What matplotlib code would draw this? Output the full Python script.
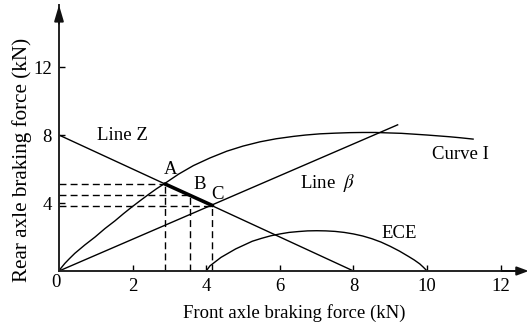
import matplotlib
matplotlib.use("Agg")
import matplotlib.pyplot as plt

plt.rcParams['font.family'] = ['Liberation Serif', 'DejaVu Serif']
plt.rcParams['mathtext.fontset'] = 'stix'

# Data
curve_i_x = [0, 0.05, 0.16, 0.28, 0.43, 0.7, 0.98, 1.25, 1.52, 1.75, 1.97, 2.2, 2.43, 2.65, 2.88,
             3.25, 3.65, 4.1, 4.56, 5.0, 5.46, 5.9, 6.37, 6.7, 7.09, 7.5, 7.9, 8.25, 8.6, 9.0,
             9.3, 9.65, 10.0, 10.3, 10.6, 10.9, 11.25]
curve_i_y = [0, 0.16, 0.45, 0.72, 1.04, 1.53, 2.0, 2.5, 2.95, 3.37, 3.75, 4.13, 4.5, 4.84, 5.16,
             5.7, 6.2, 6.65, 7.05, 7.35, 7.6, 7.78, 7.92, 8.0, 8.07, 8.11, 8.14, 8.15, 8.15, 8.12,
             8.1, 8.05, 8.0, 7.95, 7.9, 7.84, 7.76]
line_z_x = [0, 8]
line_z_y = [8, 0]
beta_x = [0, 9.2]
beta_y = [0, 8.6]
ece_x = [4.0, 4.05, 4.1, 4.25, 4.4, 4.6, 4.8, 5.0, 5.25, 5.5, 5.75, 6.0, 6.25, 6.5, 6.75, 7.0,
         7.25, 7.5, 7.75, 8.0, 8.25, 8.5, 8.75, 9.0, 9.25, 9.5, 9.65, 9.8, 9.9, 10.0]
ece_y = [0.0, 0.15, 0.3, 0.55, 0.8, 1.05, 1.3, 1.5, 1.75, 1.92, 2.07, 2.18, 2.27, 2.32, 2.36, 2.37,
         2.36, 2.33, 2.27, 2.18, 2.06, 1.9, 1.7, 1.45, 1.17, 0.85, 0.65, 0.42, 0.22, 0.0]
pts_label = ['A', 'B', 'C']
pts_x = [2.88, 3.56, 4.17]
pts_y = [5.12, 4.45, 3.85]
xticks = [2, 4, 6, 8, 10, 12]
yticks = [4, 8, 12]

W, H = 531, 329
fig = plt.figure(figsize=(W/100, H/100), dpi=100)
ax = fig.add_axes([59/W, 58/H, (525-59)/W, (271-5)/H])
ax.set_xlim(0, 12.66)
ax.set_ylim(0, 15.65)

lw = 1.0
ax.plot(curve_i_x, curve_i_y, color='black', lw=lw)
ax.plot(line_z_x, line_z_y, color='black', lw=lw)
ax.plot(beta_x, beta_y, color='black', lw=lw)
ax.plot(ece_x, ece_y, color='black', lw=lw)
# thick segment A-C
ax.plot([pts_x[0], pts_x[2]], [pts_y[0], pts_y[2]], color='black', lw=2.6, solid_capstyle='round')

for px, py in zip(pts_x, pts_y):
    ax.plot([0, px], [py, py], color='black', lw=1.0, dashes=(5, 3))
    ax.plot([px, px], [0, py], color='black', lw=1.0, dashes=(5, 3))

fs = 13.5
label_pos = [(3.02, 6.0), (3.82, 5.06), (4.31, 4.53)]
for lab, (lx, ly) in zip(pts_label, label_pos):
    ax.text(lx, ly, lab, fontsize=fs, ha='center', va='center')
ax.text(1.03, 7.97, 'Line Z', fontsize=fs, ha='left', va='center')
ax.text(10.14, 6.85, 'Curve I', fontsize=fs, ha='left', va='center')
ax.text(6.55, 5.15, r'Line  $\beta$', fontsize=fs, ha='left', va='center')
ax.text(8.77, 2.23, 'ECE', fontsize=fs, ha='left', va='center')

for s in ['top', 'right']:
    ax.spines[s].set_visible(False)
for s in ['left', 'bottom']:
    ax.spines[s].set_linewidth(1.4)
    ax.spines[s].set_color('#222222')

ax.annotate('', xy=(1.008, 0), xytext=(0.95, 0), xycoords='axes fraction',
            arrowprops=dict(arrowstyle='-|>,head_length=0.7,head_width=0.26',
                            color='#111111', lw=1.4, mutation_scale=10, shrinkA=0, shrinkB=0),
            annotation_clip=False)
ax.annotate('', xy=(0, 1.0), xytext=(0, 0.93), xycoords='axes fraction',
            arrowprops=dict(arrowstyle='-|>,head_length=0.95,head_width=0.28',
                            color='#111111', lw=1.4, mutation_scale=10, shrinkA=0, shrinkB=0),
            annotation_clip=False)

ax.set_xticks(xticks)
ax.set_yticks(yticks)
ax.set_xticklabels([str(t) for t in xticks])
ax.set_yticklabels([str(t) for t in yticks])
ax.tick_params(direction='in', length=4, width=1, labelsize=fs, pad=5)
ax.text(-0.07, -0.15, '0', fontsize=fs, ha='center', va='top')

fig.text(294/W, 1 - 313/H, 'Front axle braking force (kN)', fontsize=fs, ha='center', va='center')
fig.text(22/W, 1 - 160/H, 'Rear axle braking force (kN)', fontsize=15.2, rotation=90,
         ha='center', va='center')

fig.savefig('out.png', dpi=100)
